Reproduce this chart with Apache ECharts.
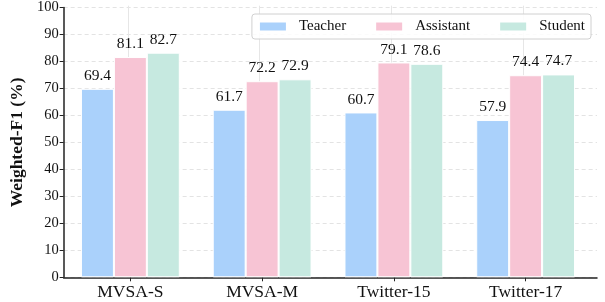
<!DOCTYPE html>
<html>
<head>
<meta charset="utf-8">
<script src="https://cdn.jsdelivr.net/npm/echarts@6/dist/echarts.min.js"></script>
<style>html,body{margin:0;padding:0;background:#fff}#c{width:605px;height:302px}</style>
</head>
<body>
<div id="c"></div>
<script>
const categories = ['MVSA-S', 'MVSA-M', 'Twitter-15', 'Twitter-17'];
const teacher = [69.4, 61.7, 60.7, 57.9];
const assistant = [81.1, 72.2, 79.1, 74.4];
const student = [82.7, 72.9, 78.6, 74.7];
const seriesNames = ['Teacher', 'Assistant', 'Student'];
const colors = ['#aad1fb', '#f7c4d4', '#c6e9e0'];
const FONT = "'Liberation Serif', 'Times New Roman', serif";

const chart = echarts.init(document.getElementById('c'), null, {renderer: 'canvas'});
const gTop = 5.7, gBottom = 24.7;
function bar(name, data, color) {
  return {
    name: name, type: 'bar', xAxisIndex: 0, yAxisIndex: 0, data: data,
    barWidth: '25%', barGap: '0%', z: 3,
    itemStyle: {color: color, borderColor: '#ffffff', borderWidth: 1},
    label: {show: true, position: 'top', distance: 5, color: '#111', fontFamily: FONT, fontSize: 15.5,
      formatter: p => p.value.toFixed(1)}
  };
}
chart.setOption({
  animation: false,
  color: colors,
  grid: [
    {left: 64.5, right: 13.5, top: gTop, bottom: gBottom},
    {left: 54, right: 8, top: gTop, bottom: gBottom},
    {left: 128, right: 82, top: gTop, bottom: gBottom}
  ],
  legend: {
    data: seriesNames, top: 14, right: 14, itemWidth: 28, itemHeight: 10, itemGap: 28,
    padding: [5, 6, 5, 6], borderColor: '#d0d0d0', borderWidth: 1, borderRadius: 3,
    backgroundColor: 'rgba(255,255,255,0.85)',
    icon: 'rect',
    textStyle: {fontFamily: FONT, fontSize: 15, color: '#111', padding: [0, 0, 0, 7]}
  },
  xAxis: [
    {type: 'category', gridIndex: 0, data: categories,
      axisLine: {show: false}, axisTick: {show: true, alignWithLabel: true, length: 4, lineStyle: {color: '#222'}},
      axisLabel: {fontFamily: FONT, fontSize: 17.5, color: '#111', margin: 6}, splitLine: {show: false}},
    {type: 'value', gridIndex: 1, min: 0, max: 1,
      axisLine: {show: true, onZero: false, lineStyle: {color: '#222', width: 1.5}},
      axisTick: {show: false}, axisLabel: {show: false}, splitLine: {show: false}},
    {type: 'category', gridIndex: 2, data: categories, boundaryGap: false,
      axisLine: {show: false}, axisTick: {show: false}, axisLabel: {show: false},
      splitLine: {show: true, lineStyle: {color: '#e6e6e6', width: 1}}}
  ],
  yAxis: [
    {type: 'value', gridIndex: 0, min: 0, max: 100, show: false},
    {type: 'value', gridIndex: 1, min: 0, max: 100, interval: 10,
      name: 'Weighted-F1 (%)', nameLocation: 'middle', nameGap: 30,
      nameTextStyle: {fontFamily: FONT, fontSize: 17.5, fontWeight: 'bold', color: '#111'},
      axisLine: {show: true, lineStyle: {color: '#222', width: 1.5}},
      axisTick: {show: true, length: 4, lineStyle: {color: '#222'}},
      axisLabel: {fontFamily: FONT, fontSize: 14.5, color: '#111', margin: 5},
      splitLine: {show: true, lineStyle: {color: '#e3e3e3', type: [4, 3], width: 1}}},
    {type: 'value', gridIndex: 2, min: 0, max: 100, show: false}
  ],
  series: [
    bar(seriesNames[0], teacher, colors[0]),
    bar(seriesNames[1], assistant, colors[1]),
    bar(seriesNames[2], student, colors[2])
  ]
});
</script>
</body>
</html>
